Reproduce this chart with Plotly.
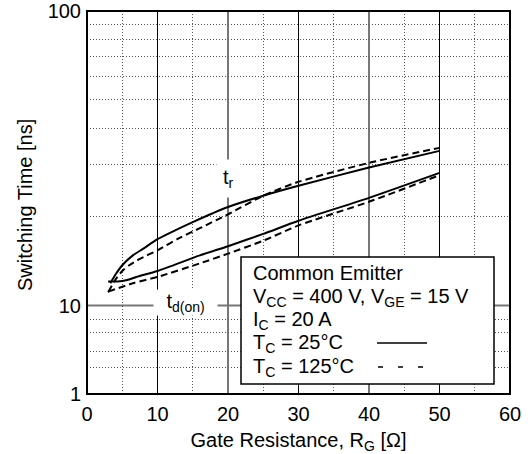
import math
import plotly.graph_objects as go

# Gate resistance [ohm] and switching times [ns]
rg_tr_25 = [3.3, 4, 5, 6.5, 8, 10, 12.5, 15, 20, 25, 30, 40, 50]
tr_25 = [11.9, 12.7, 13.7, 14.8, 15.6, 16.8, 18.0, 19.2, 21.6, 23.6, 25.5, 29.4, 33.5]

rg_tr_125 = [3, 4, 5, 6, 7.5, 10, 13, 16, 20, 25, 30, 40, 50]
tr_125 = [11.1, 12.2, 13.1, 13.7, 14.4, 15.4, 16.9, 18.3, 20.4, 23.6, 26.3, 30.5, 34.3]

rg_tdon_25 = [3, 4.3, 5.7, 7, 10, 16, 20, 25, 30, 40, 50]
tdon_25 = [12.06, 12.06, 12.2, 12.5, 13.1, 14.8, 15.9, 17.5, 19.4, 23.2, 28.2]

rg_tdon_125 = [3, 6.5, 10, 16, 20, 25, 30, 40, 50]
tdon_125 = [11.15, 11.9, 12.5, 13.9, 15.0, 16.6, 18.7, 22.5, 27.7]

x_ticks = [0, 10, 20, 30, 40, 50, 60]
x_minor = [5, 15, 25, 35, 45, 55]
x_heavy = [20, 40]
x_light = [10, 30, 50]
y_upper_ticks = [10, 100]
y_upper_minor = [20, 30, 40, 50, 60, 70, 80, 90]
y_lower_ticks = [1]
y_lower_minor = [2, 3, 5, 7]

FONT = "Liberation Sans, Arial, Helvetica, sans-serif"
DOT = "1px,2px"
SPLIT = 88.5 / 383  # lower decade (1-10) is compressed
BLACK = "black"

fig = go.Figure()

solid = dict(color=BLACK, width=2, shape="spline", smoothing=0.6)
dashed = dict(color=BLACK, width=2, dash="7px,4px", shape="spline", smoothing=0.6)

fig.add_trace(go.Scatter(x=rg_tr_25, y=tr_25, mode="lines", line=solid, yaxis="y"))
fig.add_trace(go.Scatter(x=rg_tr_125, y=tr_125, mode="lines", line=dashed, yaxis="y"))
fig.add_trace(go.Scatter(x=rg_tdon_25, y=tdon_25, mode="lines", line=solid, yaxis="y"))
fig.add_trace(go.Scatter(x=rg_tdon_125, y=tdon_125, mode="lines", line=dashed, yaxis="y"))
# empty trace so the lower decade panel exists
fig.add_trace(go.Scatter(x=[], y=[], mode="lines", yaxis="y2"))

tick_font = dict(family=FONT, size=20, color=BLACK)

fig.update_layout(
    width=528, height=454,
    margin=dict(l=87, r=18, t=11, b=60),
    paper_bgcolor="white", plot_bgcolor="white",
    showlegend=False,
    font=dict(family=FONT, size=20, color=BLACK),
    xaxis=dict(
        range=[0, 60], anchor="y2", automargin=False,
        tickvals=x_ticks, ticks="", ticklabelstandoff=6,
        showgrid=False,
        minor=dict(tickvals=x_minor, showgrid=True, gridcolor="#555",
                   griddash=DOT, gridwidth=1),
        zeroline=False, showline=False,
        title=dict(text="Gate Resistance, R<sub>G</sub> [Ω]", standoff=9,
                   font=dict(family=FONT, size=20, color=BLACK)),
        tickfont=tick_font,
    ),
    yaxis=dict(
        type="log", range=[1, 2], domain=[SPLIT, 1], anchor="x", automargin=False,
        tickvals=y_upper_ticks, ticktext=["10", "100"], ticks="",
        ticklabelstandoff=5,
        showgrid=False,
        minor=dict(tickvals=y_upper_minor, showgrid=True, gridcolor="#555",
                   griddash=DOT, gridwidth=1),
        zeroline=False, showline=False,
        tickfont=tick_font,
    ),
    yaxis2=dict(
        type="log", range=[0, 1], domain=[0, SPLIT], anchor="x", automargin=False,
        tickvals=y_lower_ticks, ticktext=["1"], ticks="",
        ticklabelstandoff=5,
        showgrid=False,
        minor=dict(tickvals=y_lower_minor, showgrid=True, gridcolor="#555",
                   griddash=DOT, gridwidth=1),
        zeroline=False, showline=False,
        tickfont=tick_font,
    ),
)

shapes = []
# solid major verticals: thin black at 10/30/50, heavier grey at 20/40
for xv in x_light:
    shapes.append(dict(type="line", xref="x", yref="paper", x0=xv, x1=xv, y0=0, y1=1,
                       line=dict(color=BLACK, width=1), layer="below"))
for xv in x_heavy:
    shapes.append(dict(type="line", xref="x", yref="paper", x0=xv, x1=xv, y0=0, y1=1,
                       line=dict(color="#777", width=2), layer="below"))
# decade line at 10 ns
shapes.append(dict(type="line", xref="paper", yref="paper", x0=0, x1=1, y0=SPLIT, y1=SPLIT,
                   line=dict(color="#777", width=2), layer="below"))
# plot frame
shapes.append(dict(type="rect", xref="paper", yref="paper", x0=0, x1=1, y0=0, y1=1,
                   line=dict(color=BLACK, width=2), fillcolor="rgba(0,0,0,0)",
                   layer="above"))
# condition box
shapes.append(dict(type="rect", xref="paper", yref="paper",
                   x0=(241 - 87) / 423, x1=(494 - 87) / 423,
                   y0=(394 - 384) / 383, y1=(394 - 257) / 383,
                   line=dict(color=BLACK, width=1.5), fillcolor="white",
                   layer="above"))
# line-style keys inside the box
shapes.append(dict(type="line", xref="paper", yref="paper",
                   x0=(377 - 87) / 423, x1=(427 - 87) / 423,
                   y0=(394 - 343) / 383, y1=(394 - 343) / 383,
                   line=dict(color=BLACK, width=1.5), layer="above"))
shapes.append(dict(type="line", xref="paper", yref="paper",
                   x0=(378 - 87) / 423, x1=(424 - 87) / 423,
                   y0=(394 - 367) / 383, y1=(394 - 367) / 383,
                   line=dict(color=BLACK, width=1.5, dash="5px,15px"), layer="above"))
fig.update_layout(shapes=shapes)

label_font = dict(family=FONT, size=20, color=BLACK)
annotations = [
    # curve labels
    dict(text="t<sub>r</sub>", x=20, y=math.log10(27.0), xref="x", yref="y",
         showarrow=False, bgcolor="white", borderpad=6, font=label_font),
    dict(text="t<sub>d(on)</sub>", x=14, y=1, xref="x", yref="y", yshift=3,
         showarrow=False, bgcolor="white", borderpad=0, width=63, font=label_font),
    # y axis title
    dict(text="Switching Time [ns]", x=-(87 - 25) / 423, y=(394 - 205) / 383,
         xref="paper", yref="paper", textangle=-90, showarrow=False,
         xanchor="center", yanchor="middle", font=label_font),
]
legend_lines = [
    ("Common Emitter", 273),
    ("V<sub>CC</sub> = 400 V, V<sub>GE</sub> = 15 V", 297),
    ("I<sub>C</sub> = 20 A", 320),
    ("T<sub>C</sub> = 25°C", 343),
    ("T<sub>C</sub> = 125°C", 367),
]
for txt, py in legend_lines:
    annotations.append(dict(text=txt, x=(251 - 87) / 423, y=(394 - py) / 383,
                            xref="paper", yref="paper", xanchor="left", yanchor="middle",
                            showarrow=False, font=label_font))
fig.update_layout(annotations=annotations)

fig.write_html("out.html")
